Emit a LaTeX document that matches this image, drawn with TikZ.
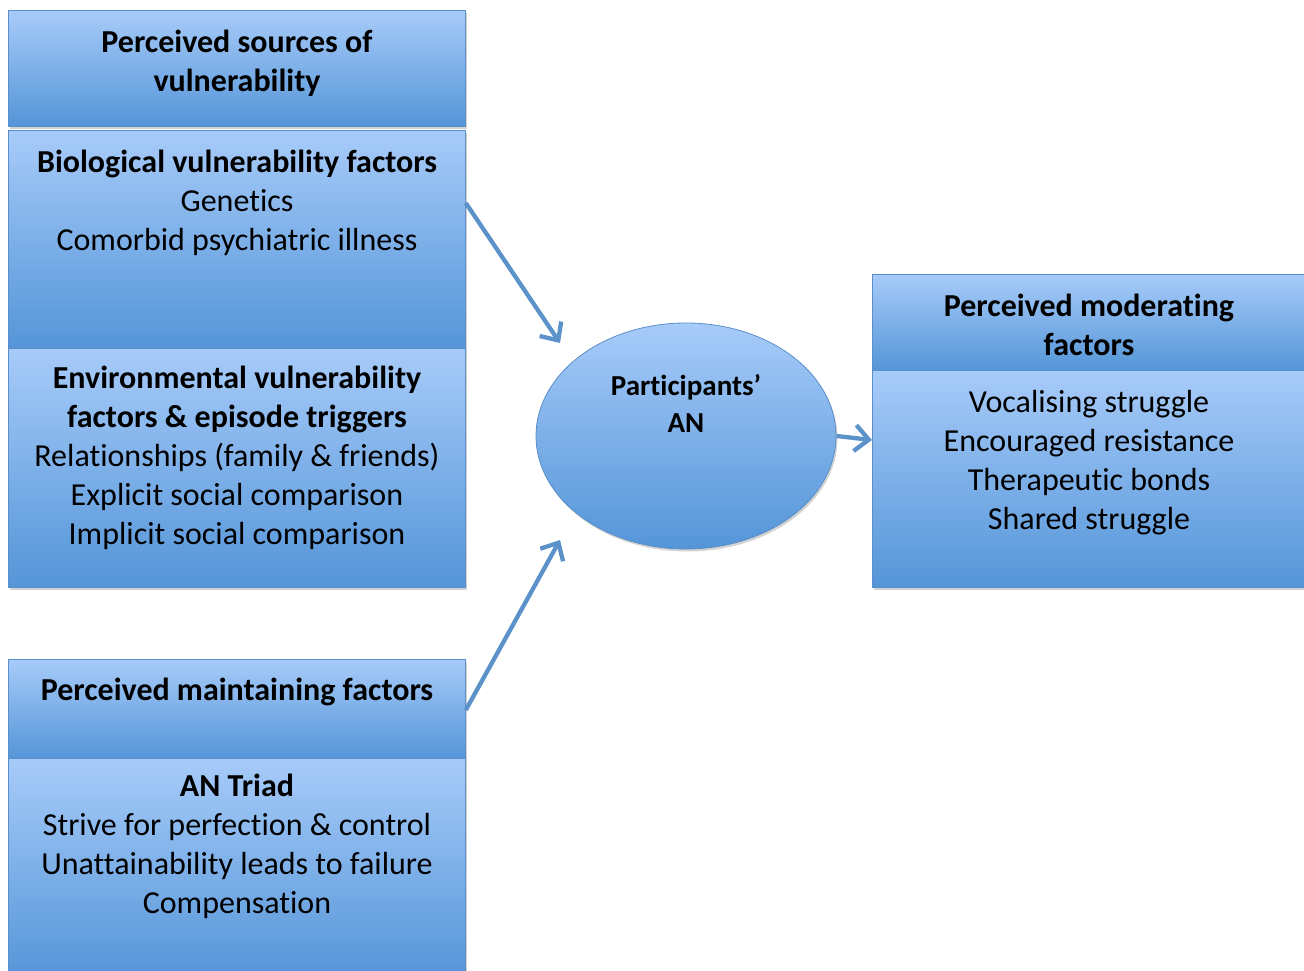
\documentclass[tikz,border=0pt]{standalone}
\usepackage{fontspec}
\setmainfont{Carlito}[Ligatures=NoCommon]
\usetikzlibrary{positioning,arrows.meta,shapes.geometric,shadows}
\definecolor{boxtop}{HTML}{A7CBF9}
\definecolor{boxbot}{HTML}{5495D8}
\definecolor{boxline}{HTML}{5B8FC9}
\definecolor{arrowblue}{HTML}{5B92CA}

\begin{document}
\begin{tikzpicture}[x=1pt, y=-1pt, font=\fontsize{32}{39}\selectfont,
  box/.style={draw=boxline, line width=0.8pt, top color=boxtop, bottom color=boxbot,
    anchor=north west, minimum width=457pt, inner sep=0pt,
    drop shadow={opacity=0.35, shadow xshift=1.5pt, shadow yshift=-2.5pt}},
  txt/.style={anchor=north, align=center, inner sep=0pt},
  arr/.style={draw=arrowblue, line width=4.3pt, -{Straight Barb[length=14pt, width=26pt, line width=4.3pt]}}]
\useasboundingbox (0,0) rectangle (1304,971);
% left column
\node[box, minimum height=116pt] (src) at (8,10) {};
\node[box, minimum height=218pt] (bio) at (8,130) {};
\node[box, minimum height=239pt] (env) at (8,348) {};
\node[box, minimum height=99pt] (mnt) at (8,659) {};
\node[box, minimum height=220pt] (triad) at (8,758) {};
% right column
\node[box, minimum width=440pt, minimum height=96pt] (mod) at (872,274) {};
\node[box, minimum width=440pt, minimum height=217pt] (modlist) at (872,370) {};
% centre
\node[ellipse, draw=boxline, line width=0.8pt, top color=boxtop, bottom color=boxbot,
  minimum width=300pt, minimum height=226pt,
  drop shadow={opacity=0.35, shadow xshift=1.5pt, shadow yshift=-2.5pt}] (an) at (686,436) {};
% texts
\node[txt] (srct) at (237,30) {\textbf{Perceived sources of}\\\textbf{vulnerability}};
\node[txt] (biot) at (237,150) {\textbf{Biological vulnerability factors}\\Genetics\\Comorbid psychiatric illness};
\node[txt] (envt) at (237,366) {\textbf{Environmental vulnerability}\\\textbf{factors \& episode triggers}\\Relationships (family \& friends)\\Explicit social comparison\\Implicit social comparison};
\node[txt] (mntt) at (237,678) {\textbf{Perceived maintaining factors}};
\node[txt] (triadt) at (237,774) {\textbf{AN Triad}\\Strive for perfection \& control\\Unattainability leads to failure\\Compensation};
\node[txt] (modt) at (1089,294) {\textbf{Perceived moderating}\\\textbf{factors}};
\node[txt] (modlistt) at (1089,390) {Vocalising struggle\\Encouraged resistance\\Therapeutic bonds\\Shared struggle};
\node[txt, font=\fontsize{29}{37}\selectfont] (ant) at (686,374) {\textbf{Participants'}\\\textbf{AN}};
% arrows
\coordinate (in1) at (560,343);
\coordinate (in2) at (560,540);
\draw[arr] (bio.east |- 0,203) -- (in1);
\draw[arr] (mnt.east |- 0,710) -- (in2);
\draw[arr] (an.east) -- (modlist.west |- 0,440);
\end{tikzpicture}
\end{document}
